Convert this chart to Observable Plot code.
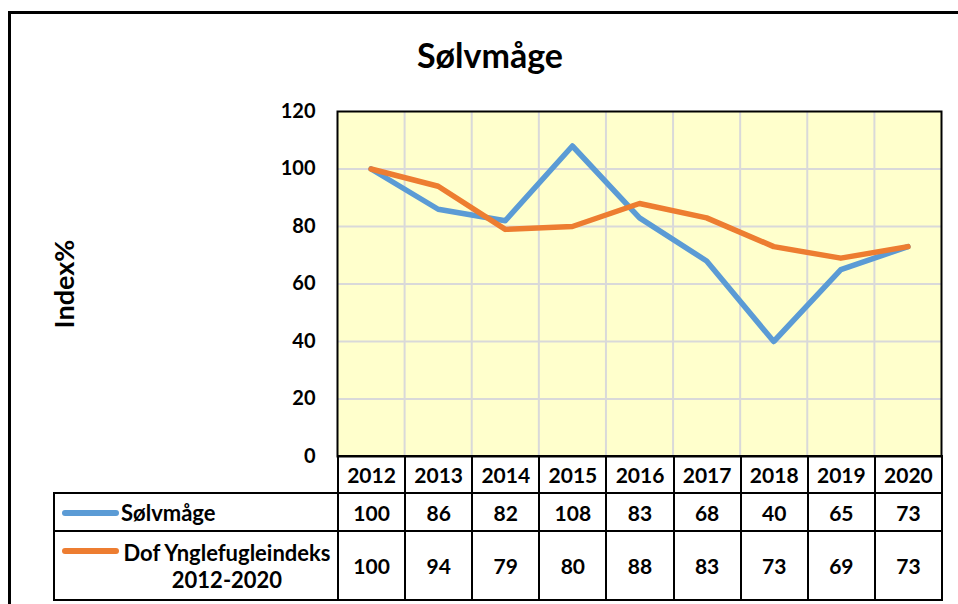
<!DOCTYPE html>
<html><head><meta charset="utf-8">
<script src="https://cdn.jsdelivr.net/npm/d3@7"></script>
<script src="https://cdn.jsdelivr.net/npm/@observablehq/plot@0.6"></script>
<style>
html,body{margin:0;padding:0;background:#fff;overflow:hidden;}
body{width:958px;height:604px;position:relative;font-family:Lato,"Open Sans",sans-serif;font-weight:bold;color:#000;}
#frame{position:absolute;left:8px;top:11px;width:1000px;height:700px;border:3px solid #000;box-sizing:border-box;}
#title{position:absolute;left:0;top:34px;width:980px;text-align:center;font-size:34px;font-weight:bold;}
#chart{position:absolute;left:0;top:0;}
#tbl{position:absolute;border-collapse:collapse;table-layout:fixed;font-size:21px;font-weight:bold;}
#tbl td{border:2px solid #000;text-align:center;padding:0;vertical-align:middle;}
#tbl td.blank{border-top:hidden;border-left:hidden;}
.sw{position:absolute;left:7px;width:57px;height:6px;border-radius:3px;}
</style></head>
<body>
<div id="frame"></div>
<div id="title">Sølvmåge</div>
<div id="chart"></div>
<table id="tbl"></table>
<script>
const years = [2012,2013,2014,2015,2016,2017,2018,2019,2020];
const solvmage = [100,86,82,108,83,68,40,65,73];
const dof = [100,94,79,80,88,83,73,69,73];
const yTicks = [0,20,40,60,80,100,120];
const seriesNames = ["Sølvmåge","Dof Ynglefugleindeks 2012-2020"];
const seriesColors = ["#5B9BD5","#ED7D31"];

const rowsA = years.map((yr,i)=>({year:yr, v:solvmage[i]}));
const rowsB = years.map((yr,i)=>({year:yr, v:dof[i]}));
const bounds = years.slice(1).map(y=>y-0.5);
const grid = "#D9D9D9";

const chart = Plot.plot({
  width:958, height:604,
  marginLeft:337, marginRight:17, marginTop:111, marginBottom:148,
  style:{fontFamily:"Lato, 'Open Sans', sans-serif", fontSize:"20px", fontWeight:"bold", background:"transparent", overflow:"visible"},
  x:{domain:[years[0]-0.5, years[years.length-1]+0.5]},
  y:{domain:[0,120]},
  marks:[
    Plot.frame({fill:"#FFFFCC", stroke:null}),
    Plot.ruleX(bounds,{stroke:grid, strokeWidth:2}),
    Plot.ruleY(yTicks.filter(t=>t>0 && t<120),{stroke:grid, strokeWidth:2}),
    Plot.axisX({ticks:[], label:null}),
    Plot.axisY({ticks:yTicks, tickSize:0, tickPadding:22, label:null, fontSize:20, fontWeight:"bold", tickFormat:d=>String(d)}),
    Plot.text(["Index%"],{frameAnchor:"left", textAnchor:"middle", dx:-272, rotate:-90, fontSize:27, fontWeight:"bold", fill:"#000"}),
    Plot.line(rowsA,{x:"year", y:"v", stroke:seriesColors[0], strokeWidth:5.5, strokeLinejoin:"round", strokeLinecap:"round"}),
    Plot.line(rowsB,{x:"year", y:"v", stroke:seriesColors[1], strokeWidth:5.5, strokeLinejoin:"round", strokeLinecap:"round"}),
    Plot.frame({stroke:"#000", strokeWidth:2})
  ]
});
document.getElementById("chart").appendChild(chart);

// table aligned to x scale
const xs = chart.scale("x");
const left0 = 53;
const plotLeft = xs.apply(years[0]-0.5);
const tbl = document.getElementById("tbl");
tbl.style.left = left0 + "px";
tbl.style.top = "455px";
const cg = document.createElement("colgroup");
const c0 = document.createElement("col"); c0.style.width = (plotLeft-left0)+"px"; cg.appendChild(c0);
years.forEach(yr=>{const c=document.createElement("col"); c.style.width=(xs.apply(yr+0.5)-xs.apply(yr-0.5))+"px"; cg.appendChild(c);});
tbl.appendChild(cg);
let tw = xs.apply(years[years.length-1]+0.5)-left0;
tbl.style.width = tw+"px";
// header
const hr = document.createElement("tr"); hr.style.height="37px";
const hb = document.createElement("td"); hb.className="blank"; hr.appendChild(hb);
years.forEach(yr=>{const td=document.createElement("td"); td.textContent=yr; hr.appendChild(td);});
tbl.appendChild(hr);
const series=[solvmage,dof];
const heights=[38,69];
series.forEach((vals,si)=>{
  const tr=document.createElement("tr"); tr.style.height=heights[si]+"px";
  const td=document.createElement("td"); td.style.position="relative";
  td.style.textAlign = si===0 ? "left" : "center";
  td.style.paddingLeft = si===0 ? "66px" : "62px";
  td.style.lineHeight = "27px";
  td.style.fontSize = "22px";
  const sw=document.createElement("div"); sw.className="sw"; sw.style.background=seriesColors[si];
  sw.style.top = "16px";
  td.appendChild(sw);
  const sp=document.createElement("span"); sp.textContent=seriesNames[si];
  if(si===1){sp.innerHTML="Dof Ynglefugleindeks<br>2012-2020";}
  td.appendChild(sp);
  tr.appendChild(td);
  vals.forEach(v=>{const c=document.createElement("td"); c.textContent=v; tr.appendChild(c);});
  tbl.appendChild(tr);
});
</script>
</body></html>
